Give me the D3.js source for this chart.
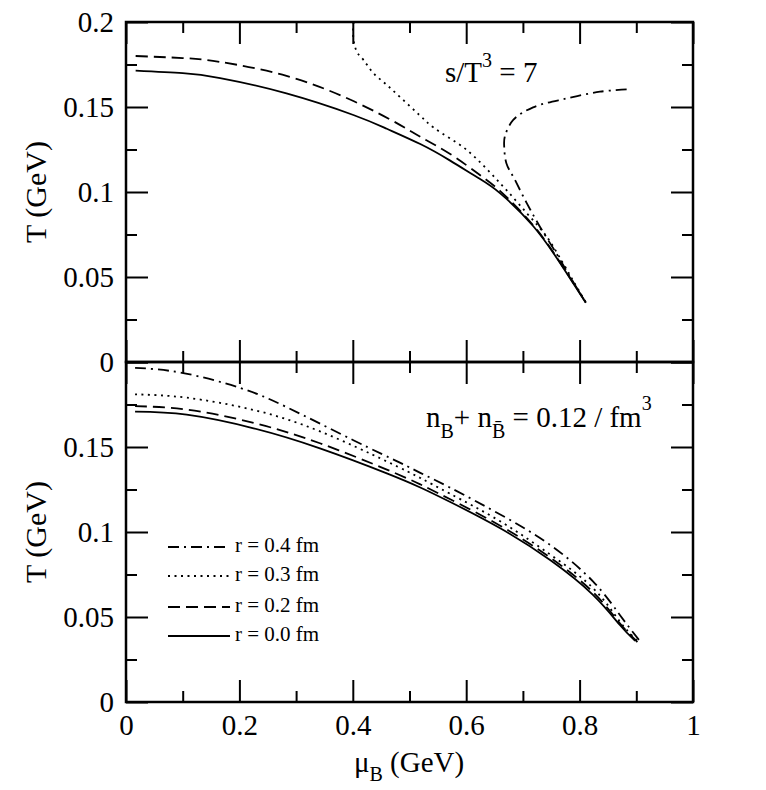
<!DOCTYPE html>
<html>
<head>
<meta charset="utf-8">
<script src="https://d3js.org/d3.v7.min.js"></script>
<style>
  body { margin: 0; background: #fff; }
  svg { display: block; }
</style>
</head>
<body>
<svg width="766" height="790"></svg>
<script>
// tick values
var muTicks = [0, 0.2, 0.4, 0.6, 0.8, 1];
var muMinor = [0.1, 0.3, 0.5, 0.7, 0.9];
var tTicks = [0, 0.05, 0.1, 0.15, 0.2];
var tMinor = [0.025, 0.075, 0.125, 0.175];

// series: r values in legend order
var radii = ["0.4", "0.3", "0.2", "0.0"];

// top panel, s/T^3 = 7   [mu_B, T]
var top00 = [[0.017,0.1714],[0.10,0.1699],[0.166,0.1670],[0.283,0.1580],[0.401,0.1453],[0.460,0.1372],
             [0.519,0.1282],[0.571,0.1186],[0.620,0.1085],[0.660,0.0992],[0.718,0.0800],[0.765,0.0585],[0.811,0.0349]];
var top02 = [[0.017,0.1800],[0.10,0.1788],[0.166,0.1765],[0.283,0.1683],[0.401,0.1535],[0.483,0.1395],
             [0.519,0.1325],[0.571,0.1225],[0.620,0.1110],[0.660,0.1005],[0.718,0.0805],[0.765,0.0588],[0.811,0.0350]];
var top03 = [[0.4015,0.2000],[0.4005,0.1950],[0.402,0.1880],[0.408,0.1820],[0.419,0.1776],[0.436,0.1700],
             [0.460,0.1630],[0.489,0.1541],[0.519,0.1448],[0.542,0.1380],[0.601,0.1247],[0.660,0.1051],
             [0.707,0.0875],[0.742,0.0737],[0.771,0.0580],[0.790,0.0470],[0.811,0.0350]];
var top04 = [[0.883,0.1604],[0.836,0.1590],[0.777,0.1550],[0.718,0.1498],[0.683,0.1424],[0.668,0.1325],
             [0.667,0.1267],[0.671,0.1168],[0.686,0.1071],[0.707,0.0933],[0.730,0.0796],[0.759,0.0639],
             [0.783,0.0502],[0.811,0.0350]];

// bottom panel, n_B + n_Bbar = 0.12 / fm^3
var bot00 = [[0.016,0.1708],[0.107,0.1690],[0.225,0.1610],[0.342,0.1492],[0.460,0.1345],[0.519,0.1262],
             [0.571,0.1178],[0.660,0.1022],[0.748,0.0835],[0.824,0.0629],[0.871,0.0453],[0.898,0.0359]];
var bot02 = [[0.016,0.1740],[0.107,0.1720],[0.225,0.1642],[0.342,0.1522],[0.460,0.1367],[0.519,0.1280],
             [0.571,0.1194],[0.660,0.1037],[0.748,0.0850],[0.824,0.0645],[0.871,0.0463],[0.902,0.0353]];
var bot03 = [[0.016,0.1810],[0.107,0.1790],[0.225,0.1718],[0.342,0.1592],[0.460,0.1415],[0.519,0.1318],
             [0.571,0.1226],[0.660,0.1063],[0.748,0.0868],[0.824,0.0669],[0.871,0.0473],[0.902,0.0359]];
var bot04 = [[0.016,0.1966],[0.101,0.1935],[0.201,0.1848],[0.283,0.1735],[0.401,0.1540],[0.483,0.1408],
             [0.519,0.1348],[0.571,0.1262],[0.660,0.1103],[0.748,0.0924],[0.824,0.0708],[0.871,0.0512],[0.907,0.0355]];

var FONT = "'Liberation Serif', 'Times New Roman', serif";
var dashes = {"0.4": "11,5,2,5", "0.3": "2,4.5", "0.2": "12,6", "0.0": null};

var svg = d3.select("svg");
var left = 126, right = 693;
var x = d3.scaleLinear().domain([0, 1]).range([left, right]);
var yTop = d3.scaleLinear().domain([0, 0.2]).range([362, 22]);
var yBot = d3.scaleLinear().domain([0, 0.2]).range([702, 362]);

function fmt(d) { return String(d); }

function axisPart(make, scale, vals, size, tr, format) {
    var g = svg.append("g").attr("transform", tr)
        .call(make(scale).tickValues(vals).tickSize(-size).tickPadding(12).tickFormat(format || ""));
    g.select(".domain").remove();
    g.selectAll("line").attr("stroke", "#000").attr("stroke-width", 2);
    g.attr("font-family", FONT).attr("font-size", 29);
    g.selectAll("text").attr("fill", "#000");
    return g;
}

function panel(y, yFormat, xFormat, series, clipId) {
    var y0 = y.range()[0], y1 = y.range()[1];
    // ticks on all four sides, pointing in
    axisPart(d3.axisLeft, y, tTicks, 22, "translate(" + left + ",0)", yFormat);
    axisPart(d3.axisLeft, y, tMinor, 11, "translate(" + left + ",0)");
    axisPart(d3.axisRight, y, tTicks, 22, "translate(" + right + ",0)");
    axisPart(d3.axisRight, y, tMinor, 11, "translate(" + right + ",0)");
    axisPart(d3.axisBottom, x, muTicks, 22, "translate(0," + y0 + ")", xFormat);
    axisPart(d3.axisBottom, x, muMinor, 11, "translate(0," + y0 + ")");
    axisPart(d3.axisTop, x, muTicks, 22, "translate(0," + y1 + ")");
    axisPart(d3.axisTop, x, muMinor, 11, "translate(0," + y1 + ")");

    svg.append("clipPath").attr("id", clipId).append("rect")
        .attr("x", left).attr("y", y1).attr("width", right - left).attr("height", y0 - y1);

    series.forEach(function (s) {
        var line = d3.line().x(function (d) { return x(d[0]); }).y(function (d) { return y(d[1]); })
            .curve(s.turn ? d3.curveCatmullRom.alpha(0.5) : d3.curveNatural);
        svg.append("path").datum(s.data)
            .attr("clip-path", "url(#" + clipId + ")")
            .attr("d", line).attr("fill", "none").attr("stroke", "#000")
            .attr("stroke-width", 1.8).attr("stroke-dasharray", dashes[s.r]);
    });

    svg.append("rect").attr("x", left).attr("y", y1).attr("width", right - left).attr("height", y0 - y1)
        .attr("fill", "none").attr("stroke", "#000").attr("stroke-width", 2.5);
}

panel(yTop, fmt, null,
      [{r: "0.0", data: top00}, {r: "0.2", data: top02},
       {r: "0.3", data: top03, turn: true}, {r: "0.4", data: top04, turn: true}], "clipTop");
panel(yBot, function (d) { return d === 0.2 ? "" : String(d); }, fmt,
      [{r: "0.0", data: bot00}, {r: "0.2", data: bot02}, {r: "0.3", data: bot03}, {r: "0.4", data: bot04}], "clipBot");

// axis titles
[192, 532].forEach(function (cy) {
    svg.append("text").attr("transform", "translate(46," + cy + ") rotate(-90)")
        .attr("text-anchor", "middle").attr("font-family", FONT).attr("font-size", 30)
        .text("T (GeV)");
});
var xt = svg.append("text").attr("x", 409).attr("y", 772).attr("text-anchor", "middle")
    .attr("font-family", FONT).attr("font-size", 29);
xt.append("tspan").text("\u03bc");
xt.append("tspan").attr("dy", 9).attr("font-size", 20).text("B");
xt.append("tspan").attr("dy", -9).text(" (GeV)");

// panel annotations
var a1 = svg.append("text").attr("x", 445).attr("y", 82).attr("font-family", FONT).attr("font-size", 29);
a1.append("tspan").text("s/T");
a1.append("tspan").attr("dy", -15).attr("font-size", 20).text("3");
a1.append("tspan").attr("dy", 15).text(" = 7");

var a2 = svg.append("text").attr("x", 426).attr("y", 427).attr("font-family", FONT).attr("font-size", 29);
a2.append("tspan").text("n");
a2.append("tspan").attr("dy", 11).attr("font-size", 20).text("B");
a2.append("tspan").attr("dy", -11).text("+ n");
a2.append("tspan").attr("dy", 11).attr("font-size", 20).text("B\u0304");
a2.append("tspan").attr("dy", -11).text(" = 0.12 / fm");
a2.append("tspan").attr("dy", -17).attr("font-size", 20).text("3");

// legend
var legRows = [547, 576, 607, 636];
radii.forEach(function (r, i) {
    svg.append("line").attr("x1", 168).attr("x2", 230).attr("y1", legRows[i]).attr("y2", legRows[i])
        .attr("stroke", "#000").attr("stroke-width", 1.8).attr("stroke-dasharray", dashes[r]);
    svg.append("text").attr("x", 235).attr("y", legRows[i] + 5)
        .attr("font-family", FONT).attr("font-size", 21).text("r = " + r + " fm");
});
</script>
</body>
</html>
